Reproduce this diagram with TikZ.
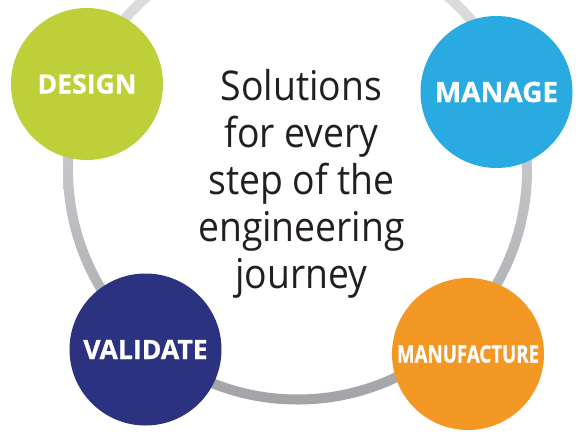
\documentclass[tikz,border=0pt]{standalone}
\usepackage{fontspec}
\usepackage{graphicx}
\setmainfont{Open Sans}
\newfontfamily\heavyfont[FakeBold=0.8]{Open Sans Bold}
\newfontfamily\headfont[FakeStretch=0.91]{Open Sans}
\definecolor{ringtop}{HTML}{E4E5E7}
\definecolor{ringbot}{HTML}{A2A4A7}
\definecolor{cdesign}{HTML}{BDD03A}
\definecolor{cmanage}{HTML}{29ABE2}
\definecolor{cvalidate}{HTML}{2B3380}
\definecolor{cmanuf}{HTML}{F39725}
\definecolor{ctext}{HTML}{231F20}
\tikzset{
  stage/.style={circle, minimum size=152pt, inner sep=0pt, text=white,
    font=\heavyfont\fontsize{26.6}{30}\selectfont},
  headline/.style={align=center, text=ctext, inner sep=0pt,
    font=\headfont\fontsize{41}{47}\selectfont}
}
\begin{document}
\begin{tikzpicture}[x=1pt,y=-1pt]
\useasboundingbox (0,0) rectangle (580,431);
\clip (0,0) rectangle (580,431);
\coordinate (c) at (297.5,170);
\shade[top color=ringtop, bottom color=ringbot, even odd rule]
  (c) circle (234.5pt) (c) circle (224.5pt);
\node[stage, fill=cdesign] (design) at (87,84) {DESIGN};
\node[stage, fill=cmanage, font=\heavyfont\fontsize{28}{30}\selectfont] (manage) at (496.5,92) {MANAGE};
\node[stage, fill=cvalidate] (validate) at (145.5,349.5) {VALIDATE};
\node[stage, fill=cmanuf, font=\heavyfont\fontsize{24}{28}\selectfont] (manufacture) at (468,354) {\scalebox{0.78}[1]{MANUFACTURE}};
\node[headline, anchor=base] (head) at (301.5,288) {Solutions\\for every\\step of the\\engineering\\journey};
\end{tikzpicture}
\end{document}
